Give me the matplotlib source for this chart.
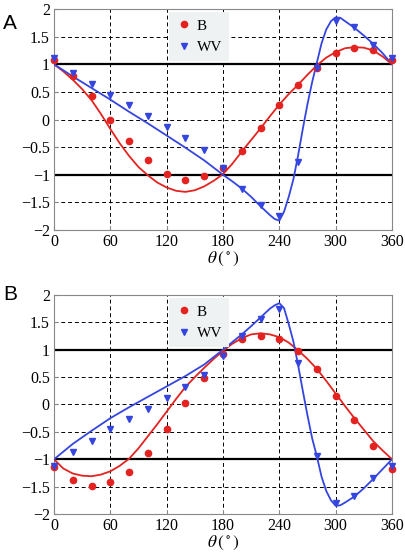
import matplotlib.pyplot as plt
import numpy as np

plt.rcParams['font.family'] = 'Liberation Serif'
plt.rcParams['mathtext.fontset'] = 'stix'

# measured angles (deg)
theta_pts = [0, 20, 40, 60, 80, 100, 120, 140, 160, 180, 200, 220, 240, 260, 280, 300, 320, 340, 360]

# panel A data points
a_b_pts = [1.07, 0.78, 0.43, 0.0, -0.39, -0.74, -0.99, -1.1, -1.02, -0.88, -0.57, -0.16, 0.27, 0.62, 0.94, 1.21, 1.3, 1.25, 1.07]
a_wv_pts = [1.12, 0.85, 0.65, 0.44, 0.26, 0.07, -0.13, -0.33, -0.55, -0.88, -1.25, -1.55, -1.74, -0.76, 0.94, 1.79, 1.68, 1.35, 1.12]

# panel B data points
b_b_pts = [-1.14, -1.38, -1.48, -1.42, -1.23, -0.89, -0.44, 0.03, 0.49, 0.93, 1.19, 1.25, 1.2, 0.98, 0.65, 0.16, -0.29, -0.76, -1.17]
b_wv_pts = [-1.12, -0.87, -0.67, -0.44, -0.27, -0.09, 0.12, 0.32, 0.54, 0.88, 1.25, 1.56, 1.74, 0.75, -0.94, -1.79, -1.68, -1.35, -1.12]

# theory curves
theta_red = [0, 10, 20, 30, 40, 50, 60, 70, 80, 90, 100, 110, 120, 130, 140, 150, 160, 170, 180,
             190, 200, 210, 220, 230, 240, 250, 260, 270, 280, 290, 300, 310, 320, 330, 340, 350, 360]
a_b_curve = [1.0, 0.87, 0.72, 0.55, 0.35, 0.1, -0.17, -0.43, -0.66, -0.86, -1.01, -1.14, -1.23, -1.29,
             -1.31, -1.28, -1.21, -1.11, -0.99, -0.8, -0.58, -0.37, -0.16, 0.06, 0.27, 0.46, 0.63, 0.81,
             0.98, 1.12, 1.22, 1.29, 1.31, 1.3, 1.25, 1.14, 1.0]
b_b_curve = [-1.0, -1.17, -1.26, -1.3, -1.31, -1.28, -1.22, -1.12, -0.99, -0.8, -0.58, -0.36, -0.13, 0.1,
             0.32, 0.5, 0.67, 0.83, 0.98, 1.11, 1.21, 1.28, 1.3, 1.28, 1.23, 1.13, 0.99, 0.83, 0.65, 0.43,
             0.2, -0.03, -0.25, -0.46, -0.67, -0.84, -1.0]

theta_blue = [0, 20, 40, 60, 80, 100, 120, 140, 160, 180, 190, 200, 210, 220, 230, 235, 240, 245, 250,
              255, 260, 265, 270, 275, 280, 285, 290, 295, 300, 305, 310, 320, 330, 340, 350, 360]
a_wv_curve = [1.0, 0.78, 0.57, 0.36, 0.14, -0.07, -0.29, -0.51, -0.74, -1.0, -1.12, -1.25, -1.4, -1.57,
              -1.73, -1.8, -1.83, -1.67, -1.4, -1.08, -0.65, -0.17, 0.28, 0.68, 1.03, 1.38, 1.63, 1.78,
              1.85, 1.84, 1.78, 1.66, 1.52, 1.37, 1.2, 1.0]
b_wv_curve = [-1.0, -0.72, -0.48, -0.25, -0.05, 0.14, 0.33, 0.52, 0.73, 1.0, 1.14, 1.28, 1.43, 1.59,
              1.75, 1.81, 1.85, 1.76, 1.47, 1.15, 0.72, 0.25, -0.2, -0.62, -0.95, -1.32, -1.58, -1.75,
              -1.85, -1.84, -1.79, -1.68, -1.53, -1.36, -1.18, -1.0]

red = '#e42320'
blue = '#3545e0'

fig = plt.figure(figsize=(4.06, 5.56), dpi=100)
ax_a = fig.add_axes([0.133, 0.5863, 0.8325, 0.3975])
ax_b = fig.add_axes([0.133, 0.0755, 0.8325, 0.394])

panels = [
    (ax_a, a_b_pts, a_wv_pts, a_b_curve, a_wv_curve),
    (ax_b, b_b_pts, b_wv_pts, b_b_curve, b_wv_curve),
]

for ax, bp, wp, bc, wc in panels:
    ax.grid(True, linestyle=(0, (4, 3)), color='black', linewidth=0.7)
    ax.axhline(1, color='black', linewidth=1.6, zorder=2)
    ax.axhline(-1, color='black', linewidth=1.6, zorder=2)
    ax.plot(theta_red, bc, color=red, linewidth=1.3, zorder=3)
    ax.plot(theta_blue, wc, color=blue, linewidth=1.3, zorder=3)
    ax.plot(theta_pts, bp, 'o', color=red, markersize=4.5, label='B', zorder=4, clip_on=False)
    ax.plot(theta_pts, wp, 'v', color=blue, markersize=5, label='WV', zorder=4, clip_on=False)
    ax.set_xlim(0, 360)
    ax.set_ylim(-2, 2)
    ax.set_xticks(np.arange(0, 361, 60))
    ax.set_yticks(np.arange(-2, 2.01, 0.5))
    ax.set_yticklabels(['\u22122', '\u22121.5', '\u22121', '\u22120.5', '0', '0.5', '1', '1.5', '2'])
    ax.tick_params(direction='in', length=3, labelsize=11.5, pad=3, color='#888888')
    for s in ax.spines.values():
        s.set_color('#888888')
        s.set_linewidth(0.8)
    ax.set_xlabel(r'$\theta\,(^\circ)$', fontsize=12.5, labelpad=0)
    leg = ax.legend(loc='upper left', bbox_to_anchor=(0.33, 1.0), frameon=True,
                    fontsize=11, handletextpad=0.3, borderpad=0.45, handlelength=1.1,
                    labelspacing=0.5, fancybox=False, borderaxespad=0.2)
    leg.get_frame().set_facecolor('#eef2f2')
    leg.get_frame().set_edgecolor('none')
    leg.get_frame().set_alpha(1)

fig.text(0.008, 0.975, 'A', fontsize=15, family='Liberation Sans', va='top')
fig.text(0.008, 0.488, 'B', fontsize=15, family='Liberation Sans', va='top')

fig.savefig('out.png', dpi=100)
